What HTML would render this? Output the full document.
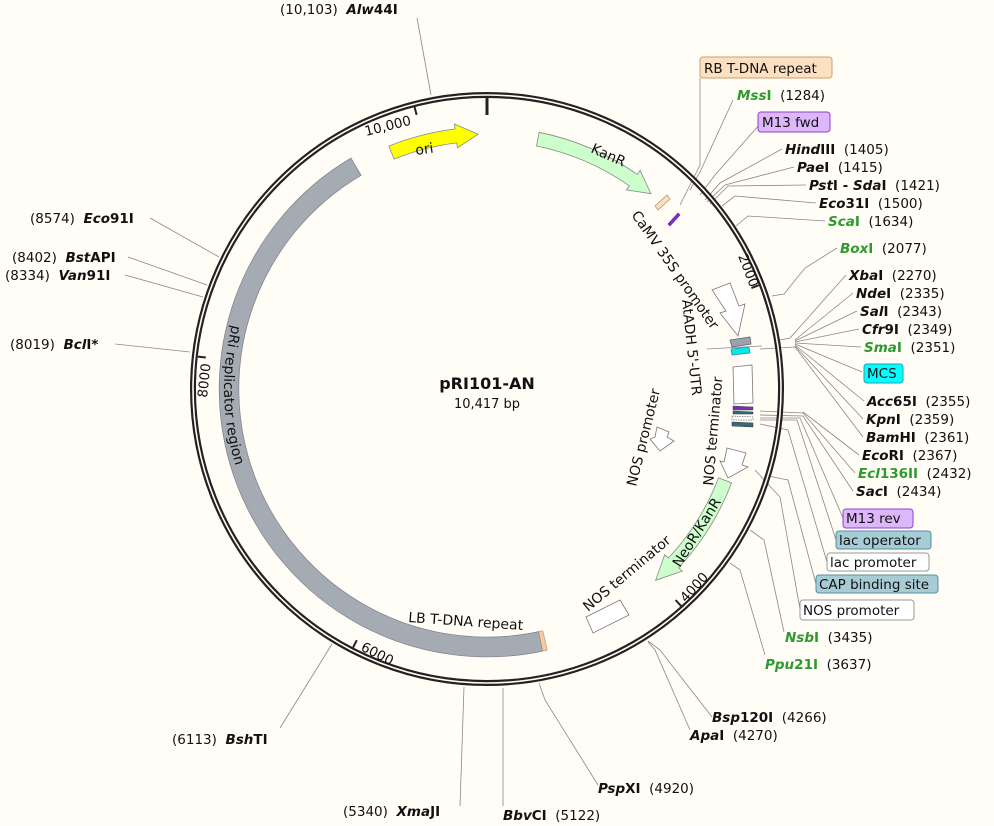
<!DOCTYPE html>
<html><head><meta charset="utf-8"><style>
html,body{margin:0;padding:0;background:#fffdf6;}
svg{display:block;font-family:"DejaVu Sans","Liberation Sans",sans-serif;}
.l{font-size:13.5px;fill:#111;}
.n{font-weight:bold;}
.i{font-style:italic;}
.g{fill:#2e9a2e;}
.ld{stroke:#888;stroke-width:0.8;fill:none;}
.f{font-size:14px;fill:#111;}
</style></head><body>
<svg width="994" height="826" viewBox="0 0 994 826" xmlns="http://www.w3.org/2000/svg">
<rect width="994" height="826" fill="#fffdf6"/>
<g class="ld">
<path d="M417,18 L431,95"/>
<path d="M733,100 L700,172 L690,190"/>
<path d="M700,78 L700,165 L680,205"/>
<path d="M760,124 L715,175 L700,195"/>
<path d="M782,149 L720,183 L705,200"/>
<path d="M794,167 L725,185 L707,202"/>
<path d="M806,185 L728,186 L710,204"/>
<path d="M816,203 L735,196 L722,206"/>
<path d="M825,221 L748,216 L736,226"/>
<path d="M837,248 L805,268 L784,294 L772,296"/>
<path d="M846,275 L790,338 L780,340"/>
<path d="M853,293 L795,340"/>
<path d="M857,311 L795,341"/>
<path d="M859,329 L795,342"/>
<path d="M861,347 L795,343"/>
<path d="M862,372 L795,344"/>
<path d="M864,401 L795,345"/>
<path d="M863,419 L795,346"/>
<path d="M863,437 L795,347 L760,349"/>
<path d="M859,455 L803,412"/>
<path d="M855,473 L803,413 L760,411"/>
<path d="M853,491 L803,416 L760,415"/>
<path d="M843,518 L800,418 L760,418"/>
<path d="M836,540 L797,420 L760,420"/>
<path d="M827,562 L788,430 L760,424"/>
<path d="M816,584 L788,480 L768,476"/>
<path d="M800,609 L780,497 L755,470"/>
<path d="M784,632 L764,540 L750,530"/>
<path d="M765,655 L740,570 L730,563"/>
<path d="M712,717 L660,650 L648,641"/>
<path d="M690,730 L655,650 L648,642"/>
<path d="M598,785 L545,700 L539,683"/>
<path d="M503,806 L503,688"/>
<path d="M460,806 L464,687"/>
<path d="M280,728 L332,644"/>
<path d="M115,344 L190,352"/>
<path d="M125,275 L203,297"/>
<path d="M128,257 L207,285"/>
<path d="M150,218 L219,257"/>
<path d="M707,349 L762,346"/>
</g>
<g transform="translate(487,389)">
<circle r="294" fill="none" stroke="#222" stroke-width="6"/>
<circle r="294" fill="none" stroke="#fffdf6" stroke-width="1.6"/>
<line x1="0" y1="-291" x2="0" y2="-274" stroke="#222" stroke-width="3"/>
<g stroke="#222" stroke-width="2">
<line x1="-72.4" y1="-281.9" x2="-70.4" y2="-274.1"/>
<line x1="271.9" y1="-103.8" x2="264.4" y2="-100.9"/>
<line x1="194" y1="216.9" x2="188.6" y2="211"/>
<line x1="-133.9" y1="258.4" x2="-130.2" y2="251.2"/>
<line x1="-289.2" y1="-32.4" x2="-281.2" y2="-31.5"/>
</g>
<path d="M55.7,262.1 A268 268 0 0 1 -136,-230.9 L-125.9,-213.7 A248 248 0 0 0 51.6,242.6 Z" fill="#a4abb3" stroke="#7a8088" stroke-width="0.7"/>
<path d="M55.7,262.1 L60.3,261.1 L55.8,241.7 L51.6,242.6 Z" fill="#f6c9a0" stroke="#a08060" stroke-width="0.5"/>
<path d="M-92.9,-229.9 L-98.1,-242.9 A262 262 0 0 1 -31.9,-260 L-32.5,-265 L-8.9,-254.8 L-29.6,-241.2 L-30.2,-246.1 A248 248 0 0 0 -92.9,-229.9 Z" fill="#ffff00" stroke="#888" stroke-width="0.8"/>
<path d="M49.5,-243 L52.2,-256.7 A262 262 0 0 1 150.3,-214.6 L153.1,-218.7 L163.9,-195.3 L139.4,-199.1 L142.3,-203.2 A248 248 0 0 0 49.5,-243 Z" fill="#ccffcc" stroke="#888" stroke-width="0.8"/>
<path d="M231.5,88.9 L244.6,93.9 A262 262 0 0 1 191.6,178.7 L195.3,182.1 L168.6,191.3 L177.7,165.7 L181.4,169.1 A248 248 0 0 0 231.5,88.9 Z" fill="#ccffcc" stroke="#888" stroke-width="0.8"/>
</g>
<polygon points="655,206 667,195 670,199 658,210" fill="#fde0c0" stroke="#a08060" stroke-width="0.6"/>
<polygon points="668,224 678,213 680,215 670,226" fill="#8a2be2" stroke="#502080" stroke-width="0.6"/>
<polygon points="712,290 730,283 739,306 745,304 738,336 720,313 726,311" fill="#fff" stroke="#777" stroke-width="0.8"/>
<polygon points="730,340 750,337 751,344 732,347" fill="#9aa3ad" stroke="#666" stroke-width="0.8"/>
<polygon points="731,349 749,347 750,353 732,355" fill="#00e8f0" stroke="#4a8a9a" stroke-width="0.8"/>
<polygon points="733,367 752,365 753,403 734,404" fill="#fff" stroke="#777" stroke-width="0.8"/>
<polygon points="733,406 753,407 753,410 733,410" fill="#7a30b0" stroke="#444" stroke-width="0.5"/>
<polygon points="733,411 753,412 753,414 733,414" fill="#2f6f80" stroke="#333" stroke-width="0.5"/>
<polygon points="732,416 753,417 753,420 732,420" fill="#fff" stroke="#333" stroke-width="0.5" stroke-dasharray="1.5,1"/>
<polygon points="732,422 753,423 753,427 732,426" fill="#2f6f80" stroke="#333" stroke-width="0.5"/>
<polygon points="727,448 746,453 742,465 748,467 728,478 720,461 724,462" fill="#fff" stroke="#777" stroke-width="0.8"/>
<polygon points="657,427 669,432 667,437 674,441 660,451 650,439 655,437" fill="#fff" stroke="#777" stroke-width="0.8"/>
<polygon points="586,617 620,600 629,615 593,633" fill="#fff" stroke="#777" stroke-width="0.8"/>
<text class="f" font-size="15" transform="translate(416,155) rotate(-8)">ori</text>
<text class="f" font-size="15" transform="translate(590,152) rotate(24)">KanR</text>
<text class="f" transform="translate(631,215) rotate(55)">CaMV 35S promoter</text>
<text class="f" transform="translate(682,300) rotate(84)">AtADH 5'-UTR</text>
<text class="f" transform="translate(713,486) rotate(-85)">NOS terminator</text>
<text class="f" transform="translate(636,487) rotate(-76)">NOS promoter</text>
<text class="f" transform="translate(588,612) rotate(-40)">NOS terminator</text>
<text class="f" transform="translate(680,568) rotate(-58)">NeoR/KanR</text>
<text class="f" transform="translate(408,622) rotate(4)">LB T-DNA repeat</text>
<path id="pri" d="M233,321 A263 263 0 0 0 397,636" fill="none"/>
<text class="f" font-size="15.5"><textPath href="#pri" startOffset="4">pRi replicator region</textPath></text>
<text class="l" transform="translate(366,136) rotate(-14)">10,000</text>
<text class="l" transform="translate(738,256) rotate(69)">2000</text>
<text class="l" transform="translate(686,603) rotate(-48)">4000</text>
<text class="l" transform="translate(360,650) rotate(27)">6000</text>
<text class="l" transform="translate(207,398) rotate(-84)">8000</text>
<text x="487" y="389" text-anchor="middle" font-size="16" font-weight="bold" fill="#111">pRI101-AN</text>
<text x="487" y="408" text-anchor="middle" font-size="13" fill="#111">10,417 bp</text>
<rect x="700" y="57" width="132" height="21" rx="3" fill="#fde0c0" stroke="#c8a070"/>
<text class="l" x="704" y="73">RB T-DNA repeat</text>
<rect x="758" y="112" width="72" height="20" rx="3" fill="#dcb8fa" stroke="#9040d0"/>
<text class="l" x="762" y="127">M13 fwd</text>
<rect x="864" y="364" width="39" height="19" rx="3" fill="#00ffff" stroke="#20a0b0"/>
<text class="l" x="867" y="378">MCS</text>
<rect x="843" y="509" width="70" height="19" rx="3" fill="#dcb8fa" stroke="#9040d0"/>
<text class="l" x="846" y="523">M13 rev</text>
<rect x="836" y="531" width="95" height="18" rx="3" fill="#a8ccd6" stroke="#5090a0"/>
<text class="l" x="839" y="545">lac operator</text>
<rect x="827" y="553" width="102" height="18" rx="3" fill="#fff" stroke="#999"/>
<text class="l" x="830" y="567">lac promoter</text>
<rect x="816" y="575" width="122" height="18" rx="3" fill="#a8ccd6" stroke="#5090a0"/>
<text class="l" x="819" y="589">CAP binding site</text>
<rect x="800" y="600" width="114" height="20" rx="3" fill="#fff" stroke="#999"/>
<text class="l" x="803" y="615">NOS promoter</text>
<g class="l">
<text x="737" y="100"><tspan class="n i g">Mss</tspan><tspan class="n g">I</tspan>&#160;&#160;(1284)</text>
<text x="785" y="154"><tspan class="n i">Hind</tspan><tspan class="n">III</tspan>&#160;&#160;(1405)</text>
<text x="797" y="172"><tspan class="n i">Pae</tspan><tspan class="n">I</tspan>&#160;&#160;(1415)</text>
<text x="809" y="190"><tspan class="n i">Pst</tspan><tspan class="n">I&#160;-&#160;</tspan><tspan class="n i">Sda</tspan><tspan class="n">I</tspan>&#160;&#160;(1421)</text>
<text x="819" y="208"><tspan class="n i">Eco</tspan><tspan class="n">31I</tspan>&#160;&#160;(1500)</text>
<text x="828" y="226"><tspan class="n i g">Sca</tspan><tspan class="n g">I</tspan>&#160;&#160;(1634)</text>
<text x="840" y="253"><tspan class="n i g">Box</tspan><tspan class="n g">I</tspan>&#160;&#160;(2077)</text>
<text x="849" y="280"><tspan class="n i">Xba</tspan><tspan class="n">I</tspan>&#160;&#160;(2270)</text>
<text x="856" y="298"><tspan class="n i">Nde</tspan><tspan class="n">I</tspan>&#160;&#160;(2335)</text>
<text x="860" y="316"><tspan class="n i">Sal</tspan><tspan class="n">I</tspan>&#160;&#160;(2343)</text>
<text x="862" y="334"><tspan class="n i">Cfr</tspan><tspan class="n">9I</tspan>&#160;&#160;(2349)</text>
<text x="864" y="352"><tspan class="n i g">Sma</tspan><tspan class="n g">I</tspan>&#160;&#160;(2351)</text>
<text x="867" y="406"><tspan class="n i">Acc</tspan><tspan class="n">65I</tspan>&#160;&#160;(2355)</text>
<text x="866" y="424"><tspan class="n i">Kpn</tspan><tspan class="n">I</tspan>&#160;&#160;(2359)</text>
<text x="866" y="442"><tspan class="n i">Bam</tspan><tspan class="n">HI</tspan>&#160;&#160;(2361)</text>
<text x="862" y="460"><tspan class="n i">Eco</tspan><tspan class="n">RI</tspan>&#160;&#160;(2367)</text>
<text x="858" y="478"><tspan class="n i g">Ecl</tspan><tspan class="n g">136II</tspan>&#160;&#160;(2432)</text>
<text x="856" y="496"><tspan class="n i">Sac</tspan><tspan class="n">I</tspan>&#160;&#160;(2434)</text>
<text x="785" y="642"><tspan class="n i g">Nsb</tspan><tspan class="n g">I</tspan>&#160;&#160;(3435)</text>
<text x="765" y="669"><tspan class="n i g">Ppu</tspan><tspan class="n g">21I</tspan>&#160;&#160;(3637)</text>
<text x="712" y="722"><tspan class="n i">Bsp</tspan><tspan class="n">120I</tspan>&#160;&#160;(4266)</text>
<text x="690" y="740"><tspan class="n i">Apa</tspan><tspan class="n">I</tspan>&#160;&#160;(4270)</text>
<text x="598" y="793"><tspan class="n i">Psp</tspan><tspan class="n">XI</tspan>&#160;&#160;(4920)</text>
<text x="503" y="820"><tspan class="n i">Bbv</tspan><tspan class="n">CI</tspan>&#160;&#160;(5122)</text>
<text x="343" y="816">(5340)&#160;&#160;<tspan class="n i">Xma</tspan><tspan class="n">JI</tspan></text>
<text x="172" y="744">(6113)&#160;&#160;<tspan class="n i">Bsh</tspan><tspan class="n">TI</tspan></text>
<text x="10" y="349">(8019)&#160;&#160;<tspan class="n i">Bcl</tspan><tspan class="n">I*</tspan></text>
<text x="5" y="280">(8334)&#160;&#160;<tspan class="n i">Van</tspan><tspan class="n">91I</tspan></text>
<text x="12" y="262">(8402)&#160;&#160;<tspan class="n i">Bst</tspan><tspan class="n">API</tspan></text>
<text x="30" y="223">(8574)&#160;&#160;<tspan class="n i">Eco</tspan><tspan class="n">91I</tspan></text>
<text x="280" y="14">(10,103)&#160;&#160;<tspan class="n i">Alw</tspan><tspan class="n">44I</tspan></text>
</g>
</svg>
</body></html>
